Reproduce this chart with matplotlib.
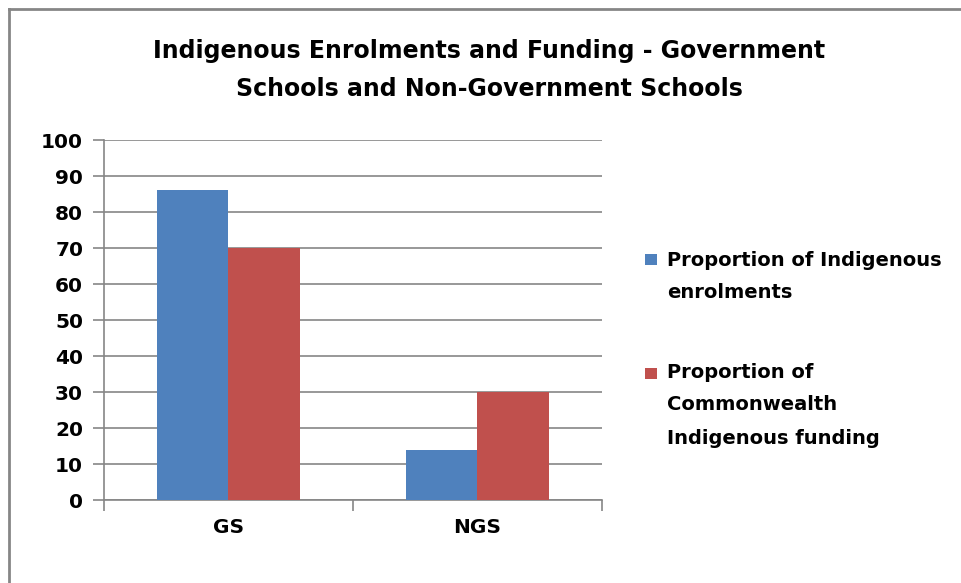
import matplotlib
matplotlib.use("Agg")
import matplotlib.pyplot as plt
from matplotlib.patches import Rectangle
from matplotlib.lines import Line2D
import numpy as np

plt.rcParams['font.family'] = ['DejaVu Sans']
plt.rcParams['font.weight'] = 'bold'

categories = ["GS", "NGS"]
series_names = ["Proportion of Indigenous\nenrolments",
                "Proportion of\nCommonwealth\nIndigenous funding"]
enrolments = [86, 14]
funding = [70, 30]
series_values = [enrolments, funding]
colors = ["#4F81BD", "#C0504D"]
y_ticks = list(range(0, 101, 10))

W, H = 962, 583
fig = plt.figure(figsize=(W / 100, H / 100), dpi=100)
fig.patch.set_facecolor("white")

def fx(px):
    return px / W

def fy(py):
    return 1 - py / H

ax = fig.add_axes([fx(104), fy(500), fx(602) - fx(104), fy(140) - fy(500)])

grey = "#868686"
n = len(categories)
bar_w = 1 / 3.5  # 150% gap width
x = np.arange(n)
for i, (vals, c) in enumerate(zip(series_values, colors)):
    ax.bar(x + (i - 0.5) * bar_w, vals, width=bar_w, color=c, zorder=3)

ax.set_xlim(-0.5, n - 0.5)
ax.set_ylim(0, 100)
ax.set_yticks(y_ticks)
ax.set_yticklabels([str(t) for t in y_ticks])
ax.yaxis.grid(True, color=grey, linewidth=1.2, zorder=0)
ax.set_axisbelow(True)

ax.set_xticks(np.arange(-0.5, n, 1.0))
ax.set_xticklabels([])
ax.set_xticks(x, minor=True)
ax.set_xticklabels(categories, minor=True)
ax.tick_params(axis='x', which='major', length=8, width=1.2, color=grey, direction='out')
ax.tick_params(axis='x', which='minor', length=0, pad=13, labelsize=14.5)
ax.tick_params(axis='y', length=8, width=1.2, color=grey, direction='out', pad=7, labelsize=14.5)

for s in ("top", "right"):
    ax.spines[s].set_visible(False)
for s in ("left", "bottom"):
    ax.spines[s].set_color(grey)
    ax.spines[s].set_linewidth(1.2)

fig.text(fx(489), fy(70), "Indigenous Enrolments and Funding - Government\nSchools and Non-Government Schools",
         ha="center", va="center", fontsize=17, fontweight="bold", linespacing=1.7)

# Legend drawn at the right of the plot area
legend_rows = [(254, [260, 293]), (368, [373, 405, 438])]
for (sq_top, line_ys), name, c in zip(legend_rows, series_names, colors):
    fig.patches.append(Rectangle((fx(645), fy(sq_top + 11)), fx(12), fy(sq_top) - fy(sq_top + 11),
                                 transform=fig.transFigure, facecolor=c, edgecolor="none"))
    for ly, line in zip(line_ys, name.split("\n")):
        fig.text(fx(667), fy(ly), line, ha="left", va="center", fontsize=14, fontweight="bold")

# Chart frame
fig.lines.append(Line2D([fx(9), 1], [fy(9), fy(9)], transform=fig.transFigure, color=grey, linewidth=2))
fig.lines.append(Line2D([fx(9), fx(9)], [fy(9), 0], transform=fig.transFigure, color=grey, linewidth=2))

fig.savefig("out.png", dpi=100, facecolor="white")
